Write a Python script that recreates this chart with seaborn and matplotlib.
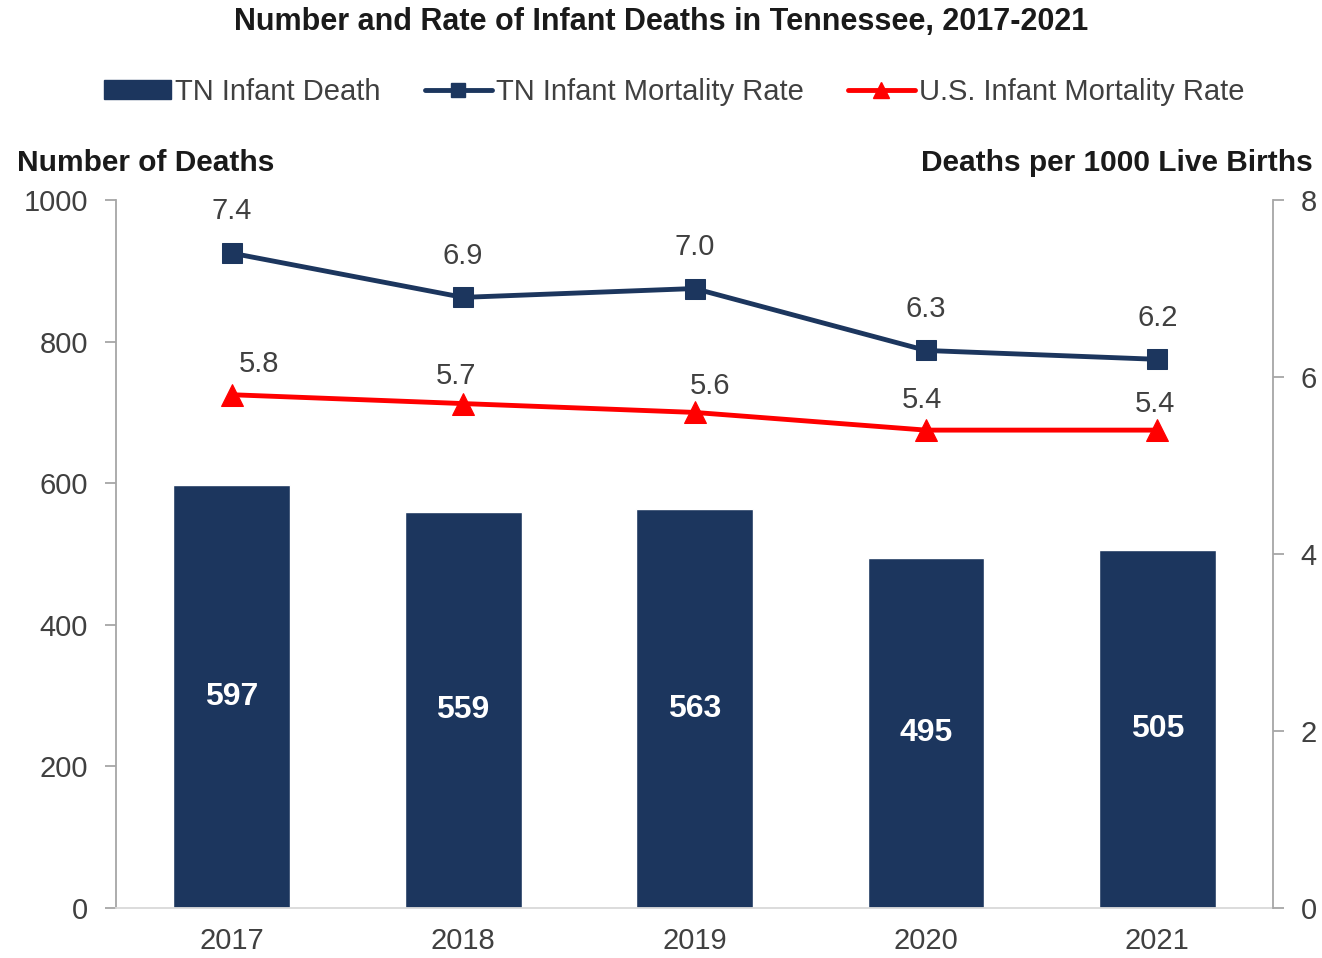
import numpy as np
import pandas as pd
import matplotlib
matplotlib.use("Agg")
import matplotlib.pyplot as plt
import seaborn as sns
from matplotlib.lines import Line2D
from matplotlib.patches import Patch

years = ["2017", "2018", "2019", "2020", "2021"]
tn_deaths = [597, 559, 563, 495, 505]
tn_rate = [7.4, 6.9, 7.0, 6.3, 6.2]
us_rate = [5.8, 5.7, 5.6, 5.4, 5.4]

NAVY = "#1c365e"
RED = "#ff0000"
GRAY = "#a6a6a6"
TEXT = "#404040"

sns.set_theme(style="white")
plt.rcParams["font.family"] = ["Liberation Sans", "DejaVu Sans"]

df = pd.DataFrame({
    "year": years,
    "pos": np.arange(len(years)),
    "deaths": tn_deaths,
    "tn_rate": tn_rate,
    "us_rate": us_rate,
})

fig = plt.figure(figsize=(13.22, 9.58), dpi=100)
ax = fig.add_axes([0.0877, 0.0522, 0.963 - 0.0877, 0.7390])

sns.barplot(data=df, x="year", y="deaths", color=NAVY, saturation=1,
            width=0.505, ax=ax)
ax.set_xlim(-0.5, len(years) - 0.5)
ax.set_ylim(0, 1000)
ax.set_yticks([0, 200, 400, 600, 800, 1000])
ax.set_xlabel("")
ax.set_ylabel("")
for c in ax.containers:
    ax.bar_label(c, label_type="center", color="white", fontsize=23,
                 fontweight="bold")

ax2 = ax.twinx()
sns.lineplot(data=df, x="pos", y="tn_rate", color=NAVY, marker="s",
             markersize=15, markeredgecolor=NAVY, linewidth=3.5, ax=ax2)
sns.lineplot(data=df, x="pos", y="us_rate", color=RED, marker="^",
             markersize=16, markeredgecolor=RED, linewidth=3.5, ax=ax2)
ax2.set_ylim(0, 8)
ax2.set_yticks([0, 2, 4, 6, 8])
ax2.set_xlim(-0.5, len(years) - 0.5)
ax2.set_xlabel("")
ax2.set_ylabel("")

# value labels for the rate lines (point offsets keep them clear of markers)
tn_off = [(0, 30), (0, 30), (0, 30), (0, 30), (0, 30)]
us_off = [(20, 22), (-5, 20), (11, 19), (-3, 22), (-2, 19)]
for i, (v, o) in enumerate(zip(tn_rate, tn_off)):
    ax2.annotate(f"{v:.1f}", (i, v), xytext=o, textcoords="offset points",
                 ha="center", va="center", fontsize=21, color=TEXT)
for i, (v, o) in enumerate(zip(us_rate, us_off)):
    ax2.annotate(f"{v:.1f}", (i, v), xytext=o, textcoords="offset points",
                 ha="center", va="center", fontsize=21, color=TEXT)

for a in (ax, ax2):
    for s in a.spines.values():
        s.set_visible(False)
    a.tick_params(axis="both", labelsize=21, colors=TEXT, length=0)
ax.spines["left"].set_visible(True)
ax.spines["left"].set_color(GRAY)
ax.spines["left"].set_linewidth(1.3)
ax.spines["bottom"].set_visible(True)
ax.spines["bottom"].set_color("#d9d9d9")
ax.spines["bottom"].set_linewidth(1.3)
ax2.spines["right"].set_visible(True)
ax2.spines["right"].set_color(GRAY)
ax2.spines["right"].set_linewidth(1.3)
ax.tick_params(axis="y", length=8, width=1.3, color=GRAY, direction="out",
               pad=12)
ax2.tick_params(axis="y", length=8, width=1.3, color=GRAY, direction="out",
                pad=12)
ax.tick_params(axis="x", pad=14)
ax2.tick_params(axis="x", bottom=False, labelbottom=False)

fig.text(0.5, 0.977, "Number and Rate of Infant Deaths in Tennessee, 2017-2021",
         ha="center", va="center", fontsize=22, fontweight="bold",
         color="#1a1a1a")
fig.text(0.013, 0.830, "Number of Deaths", ha="left", va="center",
         fontsize=21.5, fontweight="bold", color="#1a1a1a")
fig.text(0.993, 0.830, "Deaths per 1000 Live Births", ha="right",
         va="center", fontsize=21.5, fontweight="bold", color="#1a1a1a")

handles = [
    Patch(facecolor=NAVY, edgecolor=NAVY),
    Line2D([], [], color=NAVY, marker="s", markersize=10, linewidth=3.5),
    Line2D([], [], color=RED, marker="^", markersize=11, linewidth=3.5),
]
labels = ["TN Infant Death", "TN Infant Mortality Rate",
          "U.S. Infant Mortality Rate"]
fig.legend(handles, labels, loc="center", bbox_to_anchor=(0.51, 0.904),
           ncol=3, frameon=False, fontsize=21, handlelength=2.3,
           handleheight=0.6, handletextpad=0.15, columnspacing=1.5,
           labelcolor=TEXT)

fig.savefig("out.png", dpi=100)
